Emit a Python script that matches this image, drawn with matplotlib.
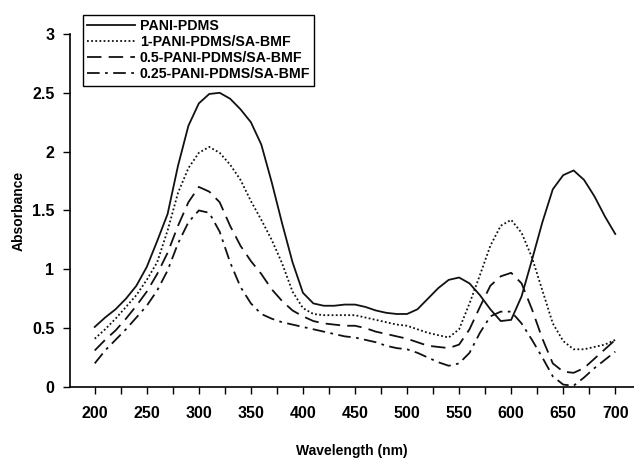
import matplotlib
matplotlib.use("Agg")
import matplotlib.pyplot as plt

wavelength = list(range(200, 701, 10))

pani_pdms = [0.51, 0.59, 0.66, 0.75, 0.86, 1.02, 1.24, 1.47, 1.88, 2.22,
             2.41, 2.49, 2.50, 2.45, 2.36, 2.25, 2.06, 1.74, 1.39, 1.06,
             0.80, 0.71, 0.69, 0.69, 0.70, 0.70, 0.68, 0.65, 0.63, 0.62,
             0.62, 0.66, 0.75, 0.84, 0.91, 0.93, 0.88, 0.78, 0.66, 0.56,
             0.57, 0.77, 1.08, 1.40, 1.68, 1.80, 1.84, 1.76, 1.62, 1.45, 1.30]

pani_1 = [0.41, 0.49, 0.58, 0.68, 0.78, 0.91, 1.06, 1.33, 1.65, 1.86,
          1.99, 2.04, 1.99, 1.89, 1.76, 1.58, 1.42, 1.25, 1.05, 0.81,
          0.67, 0.62, 0.61, 0.61, 0.61, 0.61, 0.59, 0.57, 0.55, 0.53,
          0.52, 0.49, 0.46, 0.44, 0.42, 0.49, 0.71, 0.95, 1.20, 1.37,
          1.42, 1.31, 1.10, 0.82, 0.54, 0.39, 0.32, 0.32, 0.34, 0.36, 0.40]

pani_05 = [0.31, 0.40, 0.48, 0.58, 0.69, 0.81, 0.96, 1.14, 1.37, 1.57,
           1.70, 1.66, 1.57, 1.37, 1.20, 1.07, 0.96, 0.83, 0.73, 0.65,
           0.60, 0.56, 0.54, 0.53, 0.52, 0.52, 0.50, 0.47, 0.45, 0.43,
           0.41, 0.38, 0.35, 0.34, 0.33, 0.36, 0.49, 0.68, 0.86, 0.94,
           0.97, 0.88, 0.66, 0.41, 0.20, 0.13, 0.12, 0.16, 0.24, 0.32, 0.40]

pani_025 = [0.20, 0.31, 0.40, 0.49, 0.59, 0.69, 0.82, 0.99, 1.22, 1.40,
            1.50, 1.48, 1.32, 1.06, 0.85, 0.71, 0.62, 0.58, 0.55, 0.53,
            0.51, 0.49, 0.47, 0.45, 0.43, 0.42, 0.40, 0.38, 0.35, 0.33,
            0.32, 0.29, 0.25, 0.21, 0.18, 0.20, 0.29, 0.46, 0.60, 0.64,
            0.64, 0.54, 0.40, 0.25, 0.09, 0.02, 0.01, 0.08, 0.16, 0.23, 0.30]

labels = ["PANI-PDMS", "1-PANI-PDMS/SA-BMF",
          "0.5-PANI-PDMS/SA-BMF", "0.25-PANI-PDMS/SA-BMF"]

plt.rcParams['font.family'] = ['Liberation Sans', 'DejaVu Sans']
plt.rcParams['font.weight'] = 'bold'

fig = plt.figure(figsize=(6.34, 4.59), dpi=100)
ax = fig.add_axes([0.110, 0.157, 0.890, 0.769])

lc = '#111111'
ax.plot(wavelength, pani_pdms, color=lc, lw=1.3, ls='-', label=labels[0])
ax.plot(wavelength, pani_1, color=lc, lw=1.3, ls=(0, (1, 1.3)), label=labels[1])
ax.plot(wavelength, pani_05, color=lc, lw=1.3, ls=(0, (8, 4)), label=labels[2])
ax.plot(wavelength, pani_025, color=lc, lw=1.3, ls=(0, (7, 3, 1.5, 3)), label=labels[3])

ax.set_xlim(176, 718)
ax.set_ylim(0, 3)
ax.set_xticks(range(200, 701, 25))
ax.set_xticklabels([str(v) if v % 50 == 0 else '' for v in range(200, 701, 25)])
ax.set_yticks([0, 0.5, 1, 1.5, 2, 2.5, 3])
ax.set_yticklabels(['0', '0.5', '1', '1.5', '2', '2.5', '3'])

for side in ['top', 'right']:
    ax.spines[side].set_visible(False)
for side in ['left', 'bottom']:
    ax.spines[side].set_linewidth(1.2)

ax.tick_params(axis='x', direction='out', length=5, width=1, pad=8.5, labelsize=11.5)
ax.tick_params(axis='y', direction='out', length=5, width=1, pad=6, labelsize=11.5)

ax.set_xlabel("Wavelength (nm)", fontsize=10, fontweight='bold', labelpad=17)
ax.set_ylabel("Absorbance", fontsize=10, fontweight='bold', labelpad=4.5)

leg = ax.legend(loc='upper left', bbox_to_anchor=(0.131, 0.968),
                bbox_transform=fig.transFigure, borderaxespad=0,
                handlelength=3.4, handletextpad=0.3, labelspacing=0.15,
                borderpad=0.3, fancybox=False, framealpha=1,
                prop={'weight': 'bold', 'size': 10.2})
leg.get_frame().set_edgecolor('black')
leg.get_frame().set_linewidth(1.0)

fig.savefig("out.png", dpi=100)
